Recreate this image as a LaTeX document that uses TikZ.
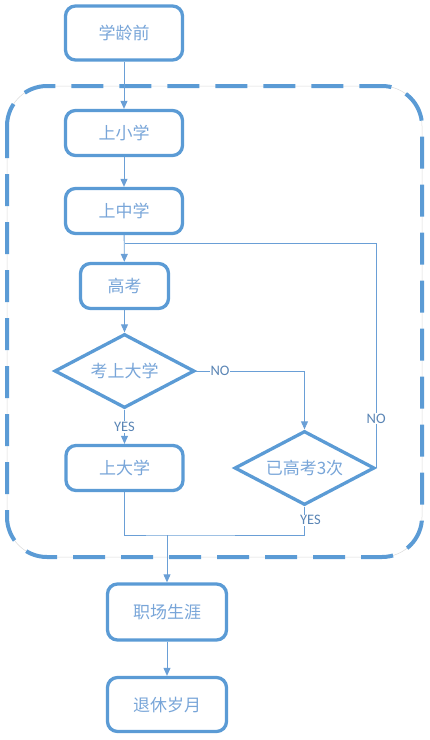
\documentclass[tikz,border=0pt]{standalone}
\usepackage{fontspec}
\setmainfont{Carlito}
\newfontfamily\cjk{Noto Sans CJK SC}
\usepackage{xcolor}
\usepackage{tikz}
\usetikzlibrary{shapes.geometric,arrows.meta}
\definecolor{boxblue}{HTML}{5B9BD5}
\definecolor{textblue}{HTML}{78A5D8}
\definecolor{linkblue}{HTML}{6A9FD6}
\definecolor{labelblue}{HTML}{5A85B5}

\begin{document}
\begin{tikzpicture}[x=1pt,y=-1pt,
    stage/.style={draw=boxblue,line width=3.3pt,rounded corners=10pt,
      minimum width=117pt,minimum height=45pt,inner sep=0pt,
      font=\cjk\fontsize{17}{20}\selectfont,text=textblue},
    choice/.style={draw=boxblue,line width=3.3pt,diamond,aspect=1.9,
      minimum width=140pt,minimum height=74pt,inner sep=0pt,
      font=\cjk\fontsize{17}{20}\selectfont,text=textblue},
    link/.style={draw=linkblue,line width=0.9pt},
    arrow/.style={link,-{Triangle[length=8pt,width=7pt]}},
    answer/.style={fill=white,inner sep=1pt,text=labelblue,
      font=\fontsize{14.5}{16}\selectfont}]
    \useasboundingbox (0,0) rectangle (430,740);

    % the school years
    \draw[black!15,line width=0.5pt,rounded corners=40pt] (7,86) rectangle (422,557);
    \draw[boxblue,line width=4pt,dash pattern=on 32pt off 16pt,
      rounded corners=40pt] (7,86) rectangle (422,557);

    \node[stage,minimum height=54pt] (preschool) at (124,33) {学龄前};
    \node[stage] (primary) at (124,133) {上小学};
    \node[stage] (middle) at (124,211) {上中学};
    \node[stage,minimum width=88pt] (exam) at (124.5,286) {高考};
    \node[choice] (admit) at (124.5,371) {考上大学};
    \node[stage] (college) at (124.5,468) {上大学};
    \node[choice] (thrice) at (304.5,468) {已高考3次};
    \node[stage,minimum width=119pt,minimum height=56pt] (career) at (167,612) {职场生涯};
    \node[stage,minimum width=119pt,minimum height=54pt] (retire) at (167,704.5) {退休岁月};

    \coordinate (retry) at (124.5,243);
    \coordinate (merge) at (167,535);

    \draw[arrow] (preschool) -- (primary);
    \draw[arrow] (primary) -- (middle);
    \draw[arrow] (middle) -- (exam);
    \draw[arrow] (exam) -- (admit);
    \draw[arrow] (admit) -- node[answer]{YES} (college);
    \draw[arrow] (admit.east) -| node[answer,pos=0.11]{NO} (thrice.north);
    \draw[link] (thrice.east) |- node[answer,pos=0.11]{NO} (retry);
    \draw[link] (college.south) |- (merge) -| node[answer,pos=0.76,xshift=6pt]{YES} (thrice.south);
    \draw[arrow] (merge) -- (career);
    \draw[arrow] (career) -- (retire);
  \end{tikzpicture}
\end{document}
